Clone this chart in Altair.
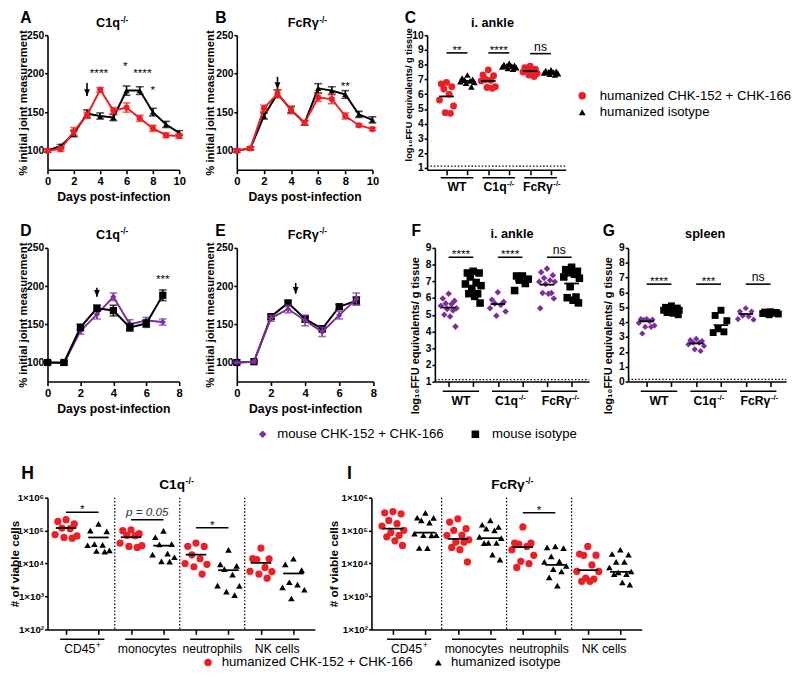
import altair as alt
import pandas as pd

FONT = "Liberation Sans"
RED = "#ec1f26"
PURPLE = "#7b2f9c"
BLACK = "#000000"

# ---------------- data ----------------
A_days = list(range(11))
A_treat = [100, 102, 125, 146, 179, 152, 156, 142, 129, 120, 119]
A_treat_err = [2, 3, 5, 4, 3, 4, 6, 4, 4, 3, 3]
A_iso = [100, 106, 122, 148, 145, 143, 178, 178, 150, 134, 123]
A_iso_err = [2, 2, 4, 5, 4, 4, 6, 5, 5, 4, 3]
A_star_x = [3.9, 5.9, 7.2, 8.0]
A_star_y = [204, 213, 204, 183]
A_star_t = ["****", "*", "****", "*"]
A_arrow = [3, 188, 171]

B_days = list(range(11))
B_treat = [100, 103, 155, 174, 153, 136, 169, 167, 145, 133, 128]
B_treat_err = [2, 2, 4, 5, 5, 3, 5, 6, 4, 2, 2]
B_iso = [100, 103, 145, 174, 153, 136, 181, 178, 173, 147, 140]
B_iso_err = [2, 2, 4, 5, 4, 3, 6, 5, 5, 4, 4]
B_star_x = [8]
B_star_y = [188]
B_star_t = ["**"]
B_arrow = [3, 196, 180]

D_days = list(range(8))
D_treat = [100, 99, 141, 163, 186, 150, 155, 153]
D_treat_err = [2, 2, 4, 6, 5, 6, 4, 4]
D_iso = [100, 100, 146, 171, 168, 146, 151, 188]
D_iso_err = [2, 2, 4, 4, 7, 5, 5, 7]
D_star_x = [7]
D_star_y = [213]
D_star_t = ["***"]
D_arrow = [3, 198, 186]

E_days = list(range(8))
E_treat = [100, 101, 158, 170, 155, 140, 162, 183]
E_treat_err = [1, 2, 4, 5, 7, 6, 5, 8]
E_iso = [100, 101, 160, 178, 157, 144, 173, 181]
E_iso_err = [1, 1, 3, 3, 4, 4, 3, 5]
E_arrow = [3.45, 204, 190]

GENO = ["WT", "C1q", "FcRγ"]
GENO_SUP = ["", "-/-", "-/-"]

C_treat = [[6.8, 6.7, 6.5, 6.35, 6.0, 5.6, 5.2, 4.75, 4.7],
           [7.65, 7.3, 7.25, 7.0, 6.95, 6.9, 6.5, 6.45, 6.4],
           [7.9, 7.8, 7.7, 7.6, 7.55, 7.5, 7.4, 7.3, 7.2]]
C_iso = [[7.3, 7.1, 7.0, 6.95, 6.9, 6.85, 6.8, 6.75, 6.5],
         [8.1, 8.0, 7.95, 7.9, 7.9, 7.85, 7.8, 7.75, 7.7],
         [7.65, 7.6, 7.55, 7.5, 7.5, 7.45, 7.4, 7.35, 7.3]]
C_treat_mean = [5.85, 6.9, 7.56]
C_iso_mean = [6.9, 7.9, 7.48]
C_sig = ["**", "****", "ns"]
C_sig_y = [8.8, 8.8, 8.75]
C_lod = 1.13

F_treat = [[6.26, 5.97, 5.83, 5.68, 5.64, 5.54, 5.39, 5.35, 5.25, 5.0, 4.9, 4.29],
           [6.35, 5.9, 5.77, 5.68, 5.58, 5.39, 5.19, 4.94],
           [7.76, 7.55, 7.36, 7.2, 7.07, 6.97, 6.97, 6.84, 6.3, 6.3, 6.26, 5.97, 5.39]]
F_iso = [[7.6, 7.5, 7.5, 7.26, 6.93, 6.84, 6.74, 6.49, 6.26, 6.26, 6.1, 5.7],
         [7.32, 7.32, 7.13, 7.07, 6.87, 6.45],
         [7.84, 7.7, 7.6, 7.51, 7.42, 7.26, 7.18, 6.68, 6.06, 6.02, 5.87, 5.71]]
F_treat_mean = [5.43, 5.64, 6.8]
F_iso_mean = [6.74, 7.03, 6.87]
F_sig = ["****", "****", "ns"]
F_sig_y = [8.44, 8.44, 8.44]
F_lod = 1.12

G_treat = [[4.21, 4.2, 4.17, 4.15, 4.06, 3.95, 3.77, 3.68, 3.68, 3.24],
           [2.88, 2.79, 2.73, 2.62, 2.62, 2.5, 2.4, 2.17, 2.06],
           [4.94, 4.72, 4.72, 4.43, 4.39, 4.21, 4.17]]
G_iso = [[5.1, 5.0, 4.95, 4.9, 4.85, 4.8, 4.8, 4.75, 4.7, 4.65, 4.6, 4.5],
         [4.8, 4.45, 4.1, 3.55, 3.35, 3.3],
         [4.7, 4.68, 4.65, 4.6, 4.6, 4.58, 4.55, 4.5]]
G_treat_mean = [4.06, 2.57, 4.55]
G_iso_mean = [4.8, 3.8, 4.6]
G_sig = ["****", "***", "ns"]
G_sig_y = [6.56, 6.56, 6.56]
G_lod = 0.15

CELLS = ["CD45", "monocytes", "neutrophils", "NK cells"]
CELLS_SUP = ["+", "", "", ""]

H_treat = [[215000, 190000, 160000, 120000, 115000, 76000, 69000, 62000, 59000],
           [105000, 100000, 81000, 72000, 70000, 42000, 35000, 33000, 31000],
           [42000, 33500, 33000, 18500, 14000, 10000, 9500, 8000, 4800],
           [29500, 14100, 14000, 13200, 7600, 5800, 5700, 4800, 3600]]
H_iso = [[160000, 100000, 95000, 39000, 37000, 36000, 25000, 24000, 23000],
         [98000, 63000, 39000, 38000, 20000, 18600, 15500, 11700, 11500],
         [26000, 9500, 8500, 6800, 4600, 2150, 2100, 1400, 1100],
         [14000, 9500, 6300, 2700, 2300, 1900, 1600, 870]]
H_treat_mean = [120000, 63000, 18600, 10500]
H_iso_mean = [62000, 35000, 6300, 5000]
H_sig = ["*", "p = 0.05", "*", None]
H_sig_y = [363000, 214000, 123000, None]

I_treat = [[380000, 347000, 324000, 204000, 162000, 138000, 102000, 87000, 72000, 65000, 49000, 35500],
           [229000, 182000, 115000, 102000, 72500, 72000, 52500, 45000, 44700, 31000, 26300, 11200],
           [129000, 42000, 41700, 38900, 33100, 26300, 17800, 11700, 10000, 7600],
           [33100, 19500, 17900, 17800, 9100, 5800, 5750, 3630, 3390, 2900, 2880]]
I_iso = [[347000, 246000, 245000, 204000, 174000, 81000, 73000, 72500, 72000, 29600, 29500],
         [204000, 151000, 129000, 115000, 102000, 64600, 59000, 42500, 42000, 41700, 18600, 13200],
         [33100, 30900, 29500, 16600, 11700, 11200, 8500, 6760, 5750, 3800, 2140],
         [26300, 19500, 18600, 11300, 11200, 7600, 5750, 5370, 4800, 4790, 2690, 2290]]
I_treat_mean = [115000, 56000, 31600, 6300]
I_iso_mean = [87000, 59000, 9100, 5600]
I_sig = [None, None, "*", None]
I_sig_y = [None, None, 347000, None]

LEG_HUM = ["humanized CHK-152 + CHK-166", "humanized isotype"]
LEG_MOU = ["mouse CHK-152 + CHK-166", "mouse isotype"]

# ---------------- helpers ----------------
DUM = pd.DataFrame({"d": [0]})
ARROW_HEAD = "M -1 -2.3 L 1 -2.3 L 0 0 Z"
JIT = [0, -6, 6, -3, 3, -8, 8, -1.5, 4.5, -4.5, 1.5, 7, -7]


def tw(s, size, bold=True):
    w = 0.0
    for ch in s:
        if ch == "-":
            w += 0.333
        elif ch in "/. ":
            w += 0.278
        elif ch == "+":
            w += 0.584
        elif ch.isdigit():
            w += 0.556
        elif ch.isupper():
            w += 0.722
        elif ch == "γ":
            w += 0.556
        else:
            w += 0.611 if bold else 0.556
    return w * size


def txt(text, x, y, size=12, weight="normal", align="center", baseline="alphabetic",
        style="normal", dx=0, dy=0, data=None):
    return alt.Chart(data if data is not None else DUM).mark_text(
        text=text, fontSize=size, fontWeight=weight, align=align, baseline=baseline,
        fontStyle=style, dx=dx, dy=dy, color="black", font=FONT
    ).encode(x=x, y=y)


def sup_label(main, sup, x, y, size, sup_size, weight="bold", rise=5, data=None):
    if not sup:
        return [txt(main, x, y, size, weight, "center", data=data)]
    b = weight == "bold"
    d = (tw(main, size, b) - tw(sup, sup_size, b)) / 2
    return [txt(main, x, y, size, weight, "right", dx=d, data=data),
            txt(sup, x, y, sup_size, weight, "left", dx=d + 0.5, dy=-rise, data=data)]


def marker(x, y):
    # white layout anchor (counts for the row bounds, invisible on the white page)
    return alt.Chart(DUM).mark_point(filled=True, size=20, opacity=1, color="white").encode(
        x=alt.value(x), y=alt.value(y))


def legend_layers(items, fs=13.5):
    layers = []
    for px, py, shape, col, size, label, tx in items:
        layers.append(alt.Chart(DUM).mark_point(shape=shape, filled=True, size=size, color=col,
                                                opacity=1).encode(x=alt.value(px), y=alt.value(py)))
        layers.append(txt(label, alt.value(tx), alt.value(py), fs, "normal", "left", baseline="middle"))
    return layers


def line_panel(days, tv, te, iv, ie, tcol, tshape, tsize, ishape, isize, xmax,
               arrow, sx, sy, st, w, h, letter, letter_x, tmain, tsup, tcx, ty,
               ytx, iso_top, xty=31, anchors=(), extras=()):
    recs = []
    for d, v, e in zip(days, tv, te):
        recs.append(dict(day=d, v=v, lo=v - e, hi=v + e, g="t"))
    for d, v, e in zip(days, iv, ie):
        recs.append(dict(day=d, v=v, lo=v - e, hi=v + e, g="i"))
    df = pd.DataFrame(recs)
    xs = alt.Scale(domain=[0, xmax], nice=False, zero=False)
    ys = alt.Scale(domain=[75, 250], nice=False, zero=False)
    xax = alt.Axis(values=list(range(0, xmax + 1, 2)), title="Days post-infection",
                   titleX=w / 2, titleY=xty, titleAlign="center", titleBaseline="alphabetic",
                   labelFlush=False, labelFontSize=11.5, titleFontSize=12.5, tickSize=4,
                   labelPadding=2)
    yax = alt.Axis(values=[100, 150, 200, 250], title="% initial joint measurement",
                   titleX=ytx, titleY=h / 2, titleAngle=270, titleAlign="center",
                   titleBaseline="alphabetic", labelFontSize=10.5, titleFontSize=11.5,
                   tickSize=3, labelPadding=1)

    def X(f):
        return alt.X(f, type="quantitative", scale=xs, axis=xax)

    def Y(f):
        return alt.Y(f, type="quantitative", scale=ys, axis=yax)

    def series(g, col, shape, size):
        b = alt.Chart(df[df.g == g])
        return [
            b.mark_line(color=col, strokeWidth=2).encode(x=X("day"), y=Y("v")),
            b.mark_rule(color=col, strokeWidth=1.6).encode(x=X("day"), y=Y("lo"), y2="hi:Q"),
            b.mark_tick(color=col, orient="horizontal", size=8, thickness=1.6).encode(x=X("day"), y=Y("lo")),
            b.mark_tick(color=col, orient="horizontal", size=8, thickness=1.6).encode(x=X("day"), y=Y("hi")),
            b.mark_point(shape=shape, filled=True, size=size, color=col, opacity=1).encode(x=X("day"), y=Y("v")),
        ]

    layers = list(anchors)
    s_t = series("t", tcol, tshape, tsize)
    s_i = series("i", BLACK, ishape, isize)
    layers += (s_t + s_i) if iso_top else (s_i + s_t)
    adf = pd.DataFrame({"x": [arrow[0]], "top": [arrow[1]], "tip": [arrow[2]]})
    layers.append(alt.Chart(adf).mark_rule(color="black", strokeWidth=1.6).encode(
        x=X("x"), y=Y("top"), y2="tip:Q"))
    layers.append(alt.Chart(adf).mark_point(shape=ARROW_HEAD, filled=True, size=36, color="black",
                                            opacity=1).encode(x=X("x"), y=Y("tip")))
    if sx:
        sdf = pd.DataFrame({"x": sx, "y": sy, "t": st})
        layers.append(alt.Chart(sdf).mark_text(fontSize=12, baseline="middle", dy=3, font=FONT,
                                               color="black").encode(x=X("x"), y=Y("y"), text="t:N"))
    layers.append(txt(letter, alt.value(letter_x), alt.value(-12), 16, "bold", "left"))
    layers += sup_label(tmain, tsup, alt.value(tcx), alt.value(ty), 13, 8.5)
    layers += list(extras)
    return alt.layer(*layers).properties(width=w, height=h)


def dot_panel(treat, iso, tmean, imean, sig, sig_y, labels, sups, w, h, lp, rp,
              ydom, yvals, ylog, ytitle, ytx, tcol, tshape, tsize, ishape, isize, jit,
              letter, letter_x, letter_y, letter_size, title, title_sup, title_cx, title_y,
              title_size, title_sup_size, lod=None, seps=False, lab_bold=True, lab_size=12.5,
              lab_sup_size=8, lab_y=24, ul_y=9, ylabexpr=None, ylab_size=10.5,
              ytitle_size=11.5, ytitle_dy=0, mean_hw=7.5, anchors=(), extras=()):
    ng = len(treat)
    n = 2 * ng
    step = w / (n - 1 + lp + rp)
    xs = alt.Scale(domain=[-lp, n - 1 + rp], nice=False, zero=False)
    if ylog:
        ys = alt.Scale(type="log", domain=ydom, nice=False)
    else:
        ys = alt.Scale(domain=ydom, nice=False, zero=False)
    xax = alt.Axis(values=list(range(n)), labels=False, title=None, tickSize=5)
    kw = dict(values=yvals, title=ytitle, titleX=ytx, titleY=h / 2 + ytitle_dy, titleAngle=270,
              titleAlign="center", titleBaseline="alphabetic", labelFontSize=ylab_size,
              titleFontSize=ytitle_size, tickSize=3, labelPadding=1)
    if ylabexpr:
        kw["labelExpr"] = ylabexpr
    yax = alt.Axis(**kw)

    def X(f):
        return alt.X(f, type="quantitative", scale=xs, axis=xax)

    def Y(f):
        return alt.Y(f, type="quantitative", scale=ys, axis=yax)

    pts = []
    for gi in range(ng):
        for k, v in enumerate(treat[gi]):
            pts.append(dict(x=2 * gi + JIT[k % len(JIT)] * jit / step, v=v, g="t"))
        for k, v in enumerate(iso[gi]):
            pts.append(dict(x=2 * gi + 1 + JIT[k % len(JIT)] * jit / step, v=v, g="i"))
    pdf = pd.DataFrame(pts)
    mrec = []
    for gi in range(ng):
        for j, m in ((0, tmean[gi]), (1, imean[gi])):
            p = 2 * gi + j
            mrec.append(dict(x0=p - mean_hw / step, x1=p + mean_hw / step, m=m))
    mdf = pd.DataFrame(mrec)
    udf = pd.DataFrame({"u0": [2 * g - 6 / step for g in range(ng)],
                        "u1": [2 * g + 1 + 6 / step for g in range(ng)]})

    layers = list(anchors)
    if seps:
        sdf = pd.DataFrame({"sx": [2 * g + 1.5 for g in range(ng - 1)]})
        layers.append(alt.Chart(sdf).mark_rule(color="black", strokeWidth=1.3, strokeDash=[1.5, 2]).encode(
            x=X("sx"), y=alt.value(0), y2=alt.value(h)))
    if lod is not None:
        ldf = pd.DataFrame({"lod": [lod]})
        layers.append(alt.Chart(ldf).mark_rule(color="black", strokeWidth=1.3, strokeDash=[1.5, 2]).encode(
            x=alt.value(0), x2=alt.value(w), y=Y("lod")))
    layers.append(alt.Chart(pdf[pdf.g == "t"]).mark_point(
        shape=tshape, filled=True, size=tsize, color=tcol, opacity=1).encode(x=X("x"), y=Y("v")))
    layers.append(alt.Chart(pdf[pdf.g == "i"]).mark_point(
        shape=ishape, filled=True, size=isize, color=BLACK, opacity=1).encode(x=X("x"), y=Y("v")))
    layers.append(alt.Chart(mdf).mark_rule(color="black", strokeWidth=1.8).encode(
        x=X("x0"), x2="x1:Q", y=Y("m")))
    for gi in range(ng):
        if sig[gi]:
            bdf = pd.DataFrame({"s0": [2 * gi], "s1": [2 * gi + 1], "sy": [sig_y[gi]],
                                "c": [2 * gi + 0.5]})
            layers.append(alt.Chart(bdf).mark_rule(color="black", strokeWidth=1.6).encode(
                x=X("s0"), x2="s1:Q", y=Y("sy")))
            t = sig[gi]
            if t.startswith("p"):
                layers.append(alt.Chart(bdf).mark_text(text=t, fontSize=12, fontStyle="italic",
                                                       baseline="alphabetic", dy=-4, font=FONT,
                                                       color="#333333").encode(x=X("c"), y=Y("sy")))
            elif t == "ns":
                layers.append(alt.Chart(bdf).mark_text(text=t, fontSize=12.5, baseline="alphabetic",
                                                       dy=-3, font=FONT, color="black").encode(
                    x=X("c"), y=Y("sy")))
            else:
                layers.append(alt.Chart(bdf).mark_text(text=t, fontSize=12, baseline="alphabetic",
                                                       dy=1, font=FONT, color="black").encode(
                    x=X("c"), y=Y("sy")))
    layers.append(alt.Chart(udf).mark_rule(color="black", strokeWidth=1.6).encode(
        x=X("u0"), x2="u1:Q", y=alt.value(h + ul_y)))
    for gi in range(ng):
        cdf = pd.DataFrame({"c": [2 * gi + 0.5]})
        layers += sup_label(labels[gi], sups[gi], X("c"), alt.value(h + lab_y), lab_size,
                            lab_sup_size, "bold" if lab_bold else "normal", data=cdf)
    layers.append(txt(letter, alt.value(letter_x), alt.value(letter_y), letter_size, "bold", "left"))
    layers += sup_label(title, title_sup, alt.value(title_cx), alt.value(title_y), title_size,
                        title_sup_size)
    layers += list(extras)
    return alt.layer(*layers).properties(width=w, height=h)


def spacer(w, h):
    return alt.Chart(DUM).mark_point(opacity=0, size=1).encode(
        x=alt.value(0), y=alt.value(0)).properties(width=w, height=h)


# ---------------- panels ----------------
H1, H2, H3 = 138, 137, 135

pA = line_panel(A_days, A_treat, A_treat_err, A_iso, A_iso_err, RED, "circle", 40, "triangle-up", 40,
                10, A_arrow, A_star_x, A_star_y, A_star_t, 135, H1, "A", -28, "C1q", "-/-", 66, -8,
                -21.5, False,
                anchors=[marker(-33, -25.5), marker(0, H1 + 36.5)])
pB = line_panel(B_days, B_treat, B_treat_err, B_iso, B_iso_err, RED, "circle", 40, "triangle-up", 40,
                10, B_arrow, B_star_x, B_star_y, B_star_t, 139, H1, "B", -22, "FcRγ", "-/-", 71, -8,
                -24, False)
YT = "log₁₀FFU equivalents/ g tissue"
pC = dot_panel(C_treat, C_iso, C_treat_mean, C_iso_mean, C_sig, C_sig_y, GENO, GENO_SUP,
               142, H1, 0.93, 0.7, [0.87, 10], list(range(1, 11)), False, YT, -16,
               RED, "circle", 50, "triangle-up", 45, 0.9,
               "C", -23, -12, 16, "i. ankle", "", 67, -8, 13, 8,
               lod=C_lod, lab_y=22, ul_y=8, ytitle_size=9.5, ytitle_dy=-8.5,
               extras=legend_layers([
                   (159, 62, "circle", RED, 60, LEG_HUM[0], 177),
                   (159, 79, "triangle-up", BLACK, 50, LEG_HUM[1], 177)]))

pD = line_panel(D_days, D_treat, D_treat_err, D_iso, D_iso_err, PURPLE, "diamond", 40, "square", 55,
                8, D_arrow, D_star_x, D_star_y, D_star_t, 135, H2, "D", -28, "C1q", "-/-", 66, -9,
                -21.5, True, xty=32,
                anchors=[marker(-33, -26.5), marker(0, H2 + 63)],
                extras=legend_layers([
                    (220.5, H2 + 54, "diamond", PURPLE, 60, LEG_MOU[0], 235.5),
                    (438.5, H2 + 54, "square", BLACK, 60, LEG_MOU[1], 455.5)]))
pE = line_panel(E_days, E_treat, E_treat_err, E_iso, E_iso_err, PURPLE, "diamond", 40, "square", 55,
                8, E_arrow, [], [], [], 140, H2, "E", -22, "FcRγ", "-/-", 71, -9,
                -24, False, xty=32)
pF = dot_panel(F_treat, F_iso, F_treat_mean, F_iso_mean, F_sig, F_sig_y, GENO, GENO_SUP,
               158, H2, 0.56, 0.71, [1, 9], list(range(1, 10)), False, YT, -17,
               PURPLE, "diamond", 45, "square", 60, 1.0,
               "F", -24, -12, 16, "i. ankle", "", 79, -10, 13, 8,
               lod=F_lod, lab_y=24, ul_y=10, ytitle_size=11.2, ytitle_dy=21)
pG = dot_panel(G_treat, G_iso, G_treat_mean, G_iso_mean, G_sig, G_sig_y, GENO, GENO_SUP,
               162, H2, 0.75, 0.63, [0, 9], list(range(0, 10)), False, YT, -17,
               PURPLE, "diamond", 40, "square", 50, 1.0,
               "G", -26, -12, 16, "spleen", "", 79, -10, 13, 8,
               lod=G_lod, lab_y=24, ul_y=10, ytitle_size=11.2, ytitle_dy=21)

HEXPR = ("datum.value >= 500000 ? '1×10⁶' : datum.value >= 50000 ? '1×10⁵' : "
         "datum.value >= 5000 ? '1×10⁴' : datum.value >= 500 ? '1×10³' : '1×10²'")
HVALS = [100, 1000, 10000, 100000, 1000000]
pH = dot_panel(H_treat, H_iso, H_treat_mean, H_iso_mean, H_sig, H_sig_y, CELLS, CELLS_SUP,
               274, H3, 0.57, 0.66, [100, 1000000], HVALS, True, "# of viable cells", -30,
               RED, "circle", 55, "triangle-up", 45, 1.4,
               "H", -27, -19, 18, "C1q", "-/-", 132, -9, 14, 9,
               seps=True, lab_bold=False, lab_size=12.5, lab_sup_size=9, lab_y=24, ul_y=10,
               ylabexpr=HEXPR, ylab_size=10, ytitle_size=12, mean_hw=10.5,
               anchors=[marker(-50, -34.5), marker(0, H3 + 42)],
               extras=legend_layers([
                   (164.5, H3 + 34, "circle", RED, 60, LEG_HUM[0], 178.5),
                   (400.5, H3 + 34, "triangle-up", BLACK, 50, LEG_HUM[1], 413.5)]))
pI = dot_panel(I_treat, I_iso, I_treat_mean, I_iso_mean, I_sig, I_sig_y, CELLS, CELLS_SUP,
               277, H3, 0.66, 0.66, [100, 1000000], HVALS, True, "# of viable cells", -35,
               RED, "circle", 55, "triangle-up", 45, 1.4,
               "I", -25, -19, 18, "FcRγ", "-/-", 143, -9, 14, 9,
               seps=True, lab_bold=False, lab_size=12.5, lab_sup_size=9, lab_y=24, ul_y=10,
               ylabexpr=HEXPR, ylab_size=10, ytitle_size=12, mean_hw=10.5)

row1 = alt.hconcat(pA, spacer(59, 1), pB, spacer(56, 1), pC, spacing=0, bounds="flush")
row2 = alt.hconcat(pD, spacer(59, 1), pE, spacer(63, 1), pF, spacer(40, 1), pG,
                   spacing=0, bounds="flush")
row3 = alt.hconcat(pH, spacer(58, 1), pI, spacing=0, bounds="flush")

chart = alt.vconcat(row1, spacer(1, 11), row2, spacer(1, 15), row3, spacing=0).properties(
    padding={"left": -12.5, "top": -8.5, "right": 0, "bottom": 0}
).configure(font=FONT).configure_view(stroke=None).configure_axis(
    domainColor="black", domainWidth=1.6, tickColor="black", tickWidth=1.6,
    labelColor="black", titleColor="black", labelFont=FONT, titleFont=FONT,
    labelFontWeight="bold", titleFontWeight="bold", grid=False, labelOverlap=False
)

chart.save("out.html", embed_options={"renderer": "svg", "actions": False})
